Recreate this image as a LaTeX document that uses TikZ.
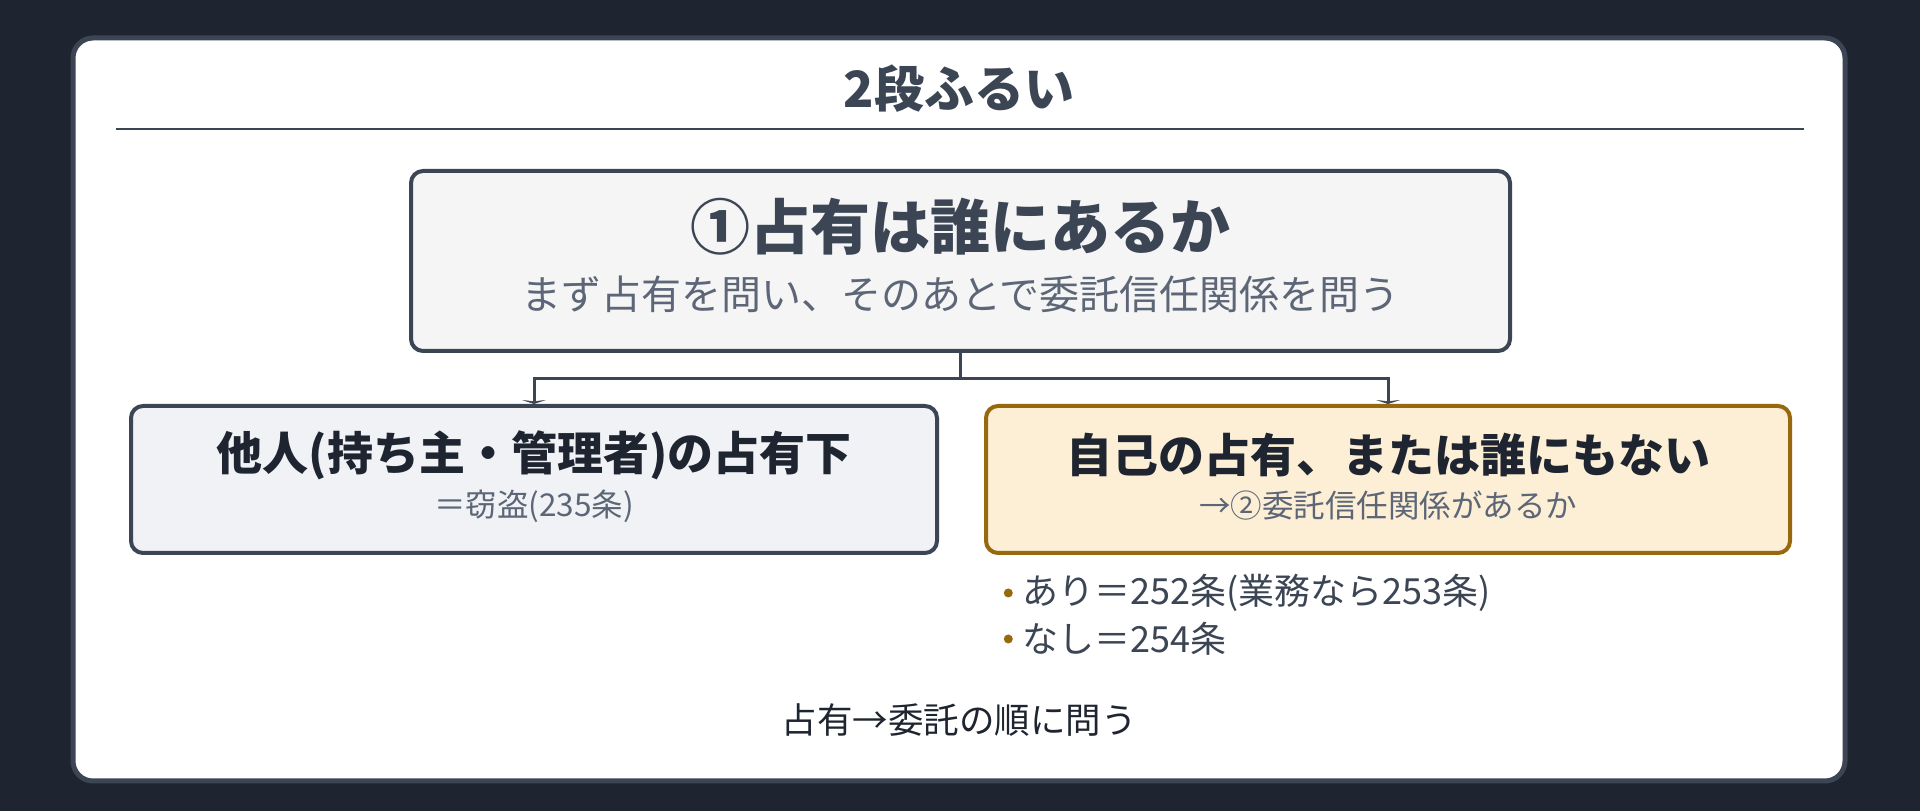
\documentclass[tikz,border=0pt]{standalone}
\usepackage{fontspec}
\setmainfont{Noto Sans CJK JP}
\usetikzlibrary{positioning,arrows.meta}

\definecolor{pagebg}{HTML}{1F2530}
\definecolor{slate}{HTML}{3B4554}
\definecolor{ink}{HTML}{1F2530}
\definecolor{mute}{HTML}{5C6677}
\definecolor{graybox}{HTML}{F5F5F5}
\definecolor{bluebox}{HTML}{F0F2F5}
\definecolor{creambox}{HTML}{FCEFD5}
\definecolor{gold}{HTML}{98680F}

\newcommand{\fsz}[1]{\fontsize{#1}{#1}\selectfont}

\begin{document}
\begin{tikzpicture}[x=1pt, y=1pt, >={Stealth[length=4pt,width=24pt]},
	box/.style={draw=slate, line width=4pt, rounded corners=12pt, inner sep=0pt},
	head/.style={text=ink, font=\fsz{46}\bfseries},
	sub/.style={text=mute, font=\fsz{31.5}},
	item/.style={text=slate, font=\fsz{36}, anchor=west, inner sep=0pt},
	dot/.style={circle, fill=gold, inner sep=0pt, minimum size=9pt},
	link/.style={draw=slate, line width=3pt}]
	% Background and card
	\fill [pagebg] (0,0) rectangle (1920,811);
	\useasboundingbox (0,0) rectangle (1920,811);
	\draw [slate, line width=5pt, fill=white, rounded corners=20pt] (73,30) rectangle (1845,773);
	
	% Title
	\node [text=slate, font=\fsz{50}\bfseries] (title) at (959,722) {2段ふるい};
	\draw [slate, line width=2.5pt] (116,682) -- (1804,682);
	
	% Nodes {own, other, self}
	\node [box, fill=graybox, minimum width=1099pt, minimum height=180pt] (own) at (960.5,550) {};
	\node [text=slate, font=\fsz{60}\bfseries] (ownhead) at ([yshift=34pt]own.center) {①占有は誰にあるか};
	\node [text=mute, font=\fsz{40}] (ownsub) at ([yshift=-33pt]own.center) {まず占有を問い、そのあとで委託信任関係を問う};
	
	\node [box, fill=bluebox, minimum width=806pt, minimum height=147pt] (other) at (534,331.5) {};
	\node [head] (otherhead) at ([yshift=24.5pt]other.center) {他人(持ち主・管理者)の占有下};
	\node [sub] (othersub) at ([yshift=-26.5pt]other.center) {＝窃盗(235条)};
	
	\node [box, draw=gold, fill=creambox, minimum width=804pt, minimum height=147pt] (self) at (1388,331.5) {};
	\node [head] (selfhead) at ([yshift=24.5pt]self.center) {自己の占有、または誰にもない};
	\node [sub] (selfsub) at ([yshift=-26.5pt]self.center) {→②委託信任関係があるか};
	
	% Bullets
	\node [item] (yes) at (1022,218) {あり＝252条(業務なら253条)};
	\node [item] (no)  at (1022,172) {なし＝254条};
	\node [dot] (yesdot) [left=9pt of yes] {};
	\node [dot] (nodot)  [left=9pt of no]  {};
	
	% Footer
	\node [text=ink, font=\fsz{35.5}] (foot) at (959,91) {占有→委託の順に問う};
	
	% Paths
	\coordinate (fork) at ([yshift=-26pt]own.south);
	\path [link, ->] (own.south) -- (fork) -| (other.north);
	\path [link, ->] (fork) -| (self.north);
	
\end{tikzpicture}
\end{document}
